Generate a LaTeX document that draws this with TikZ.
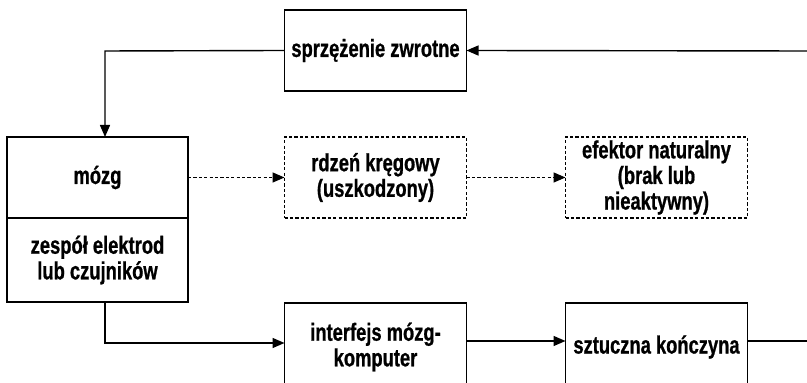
\documentclass[tikz,border=0pt]{standalone}
\usepackage{fontspec}
\setmainfont{Liberation Sans}[FakeStretch=0.74,BoldFeatures={FakeBold=0.8}]
\usetikzlibrary{arrows.meta}

\begin{document}
\begin{tikzpicture}[x=0.5pt,y=-0.5pt,
    block/.style={draw,line width=0.7pt,align=center,inner sep=0pt,outer sep=0pt,
      minimum width=91pt,minimum height=40.5pt,
      font=\bfseries\fontsize{12.4}{12.8}\selectfont},
    ghost/.style={block,dash pattern=on 1.6pt off 1.1pt},
    flow/.style={line width=0.7pt,-{Triangle[length=6pt,width=5pt]}},
    ghostflow/.style={flow,dash pattern=on 1.6pt off 1.1pt}]
    % Frame (the picture is cut off at the bottom and on the right)
    \clip (0,0) rectangle (807,383);

    % Feedback
    \node[block] (feedback) at (375.5,50.5) {sprzężenie zwrotne};

    % Brain and electrodes
    \node[block,minimum width=90.5pt] (brain) at (97.5,177.5) {mózg};
    \node[block,minimum width=90.5pt,minimum height=42pt] (sensors) at (97.5,260) {zespół elektrod\\lub czujników};

    % Natural path (inactive)
    \node[ghost] (cord) at (375.5,177.5) {rdzeń kręgowy\\(uszkodzony)};
    \node[ghost] (effector) at (656.5,177.5) {efektor naturalny\\(brak lub\\nieaktywny)};

    % Artificial path
    \node[block,minimum height=44pt] (bci) at (375.5,347) {interfejs mózg-\\komputer};
    \node[block,minimum height=44pt] (limb) at (656.5,347) {sztuczna kończyna};

    % Free ends and bends
    \coordinate (fbin) at (807,51);
    \coordinate (drop) at (105,51);
    \coordinate (tap) at (105,343);
    \coordinate (limbout) at (807,341);

    % Connectors
    \draw[flow] (fbin) -- (feedback.east);
    \draw[flow] (feedback.west) -- (drop) -- (drop |- brain.north);
    \draw[ghostflow] (brain) -- (cord);
    \draw[ghostflow] (cord) -- (effector);
    \draw[flow] (tap |- sensors.south) -- (tap) -- (tap -| bci.west);
    \draw[flow] (bci.east |- limbout) -- (limb.west |- limbout);
    \draw[line width=0.7pt] (limb.east |- limbout) -- (limbout);
\end{tikzpicture}
\end{document}
